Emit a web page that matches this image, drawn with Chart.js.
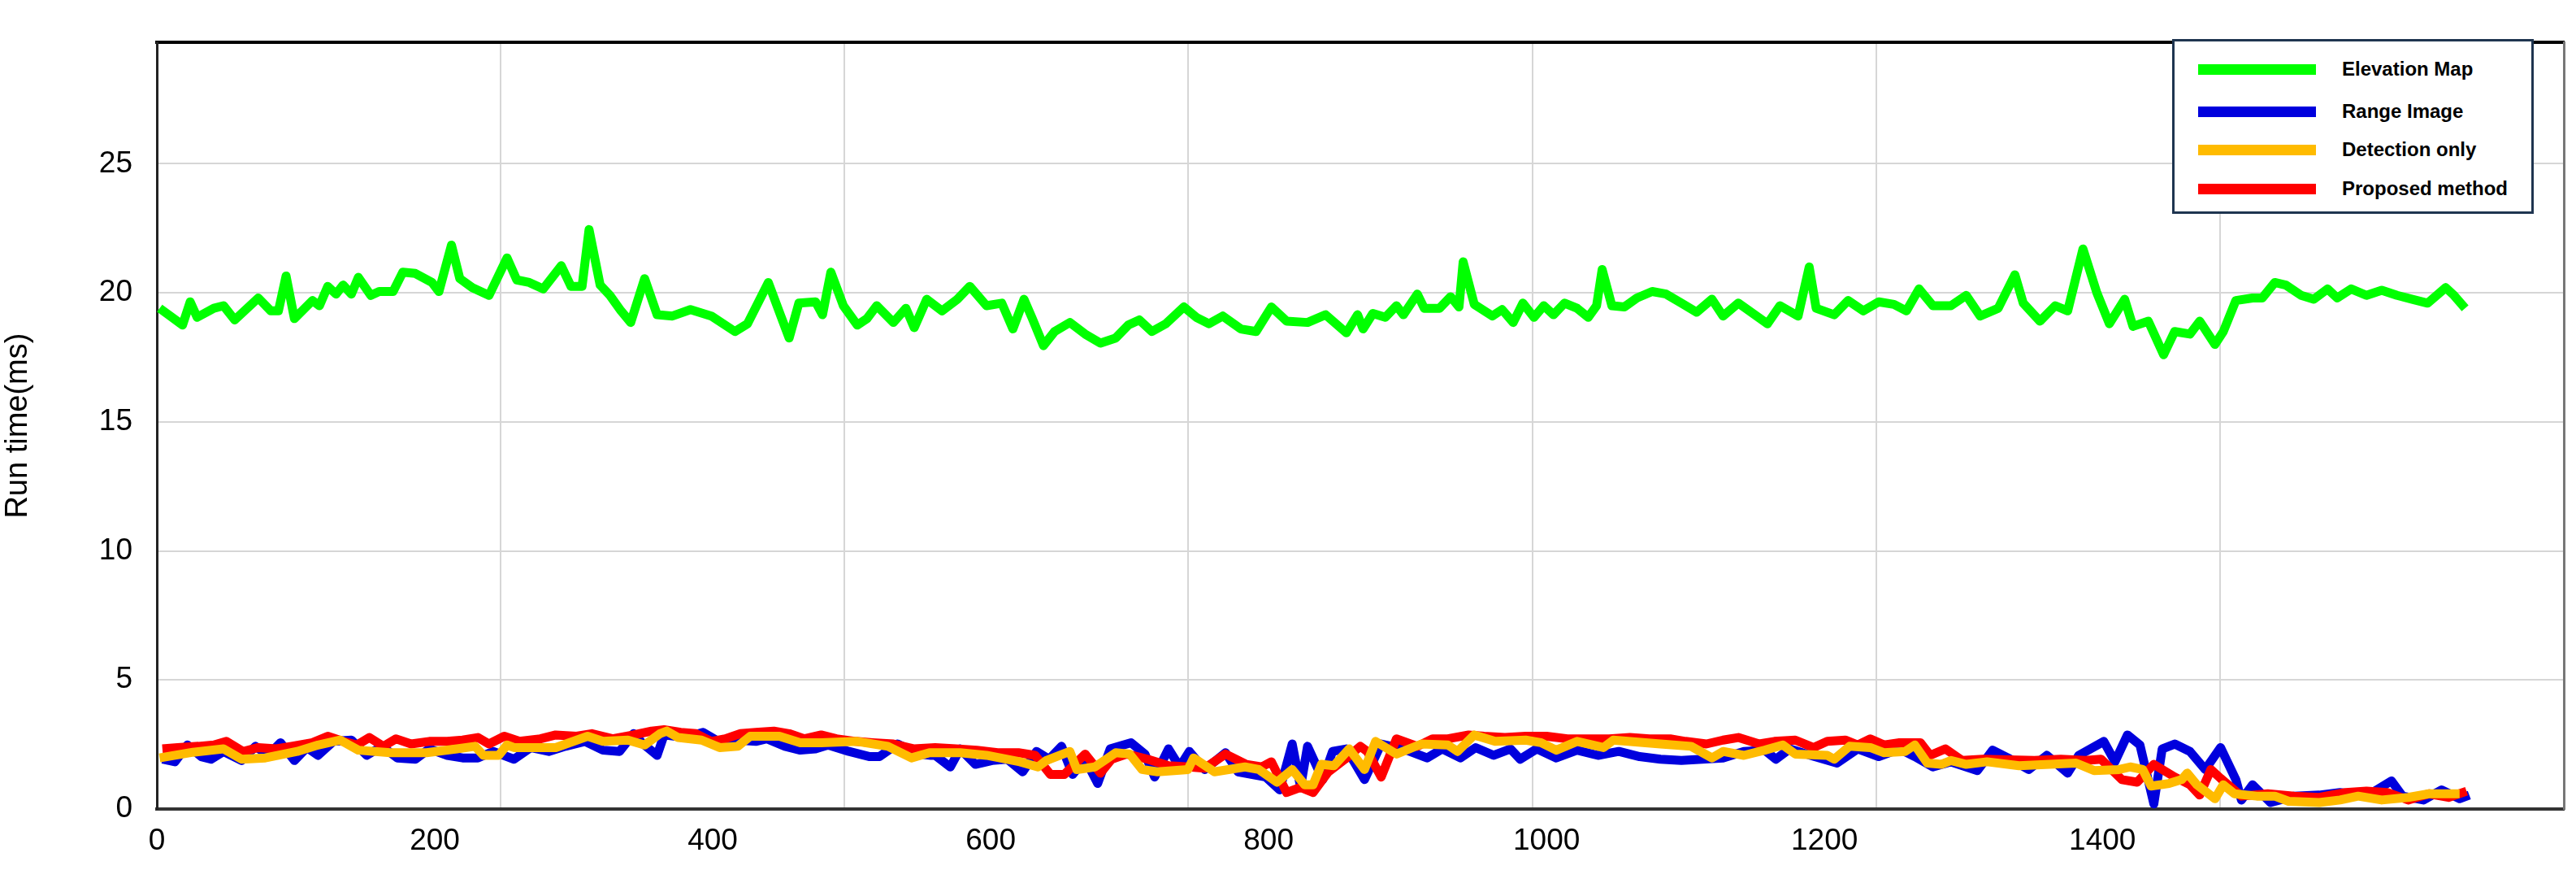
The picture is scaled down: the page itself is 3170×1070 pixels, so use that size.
<!DOCTYPE html>
<html>
<head>
<meta charset="utf-8">
<script src="https://cdn.jsdelivr.net/npm/chart.js@4.4.0/dist/chart.umd.min.js"></script>
<style>
    html, body { margin: 0; padding: 0; background: #fff; }
    #wrap { position: relative; width: 3170px; height: 1070px; }
    #legend {
        position: absolute; left: 2673px; top: 48px; width: 439px; height: 209px;
        border: 3px solid #1f3550; background: #fff;
        font-family: "Liberation Sans", Arial, sans-serif; font-weight: bold; font-size: 24px;
    }
    .row { position: absolute; left: 0; height: 30px; display: flex; align-items: center; }
    .swatch { position: absolute; left: 29px; width: 145px; height: 13px; }
    .label { position: absolute; left: 206px; white-space: nowrap; color: #000; }
</style>
</head>
<body>
<div id="wrap">
    <canvas id="chart" width="3170" height="1070"></canvas>
    <div id="legend"></div>
</div>
<script>
// Series names and colours
const seriesNames = ['Elevation Map', 'Range Image', 'Detection only', 'Proposed method'];
const seriesColors = ['#00ff00', '#0000dd', '#ffbb00', '#ff0000'];

// Elevation Map
const greenX = [2, 18.5, 24, 29, 41, 48, 56, 73, 82, 87.5, 93, 99, 112, 117, 123, 129, 134, 140, 145, 154, 160, 170, 177, 186, 198, 203, 212, 218, 227, 239, 252, 259, 268, 278, 291, 298, 306, 311, 319, 326, 334, 341, 351, 360, 371, 384, 399, 416, 425, 440, 449, 455, 462, 474, 479, 485, 494, 504, 511, 518, 530, 539, 545, 554, 565, 576,
    585, 597, 608, 616, 624, 630, 638, 646, 657, 668, 679, 690, 699, 707, 716, 726, 739, 748, 757, 767, 780, 791, 802, 813, 828, 841, 856, 864, 868, 875, 884, 892, 897, 907, 912, 923, 931, 937, 940, 948, 961, 968, 976, 983, 991, 998, 1005, 1013, 1022, 1030, 1036, 1040, 1047, 1056, 1065, 1076, 1086, 1097, 1108, 1119,
    1127, 1138, 1159, 1168, 1181, 1189, 1194, 1207, 1217, 1228, 1239, 1250, 1259, 1268, 1278, 1291, 1302, 1312, 1325, 1337, 1343, 1355, 1366, 1375, 1386, 1396, 1405, 1416, 1422, 1433, 1444, 1452, 1463, 1470, 1481, 1487, 1496, 1508, 1515, 1524, 1532, 1543, 1552, 1562, 1569, 1579, 1590, 1601, 1612, 1623, 1634, 1647, 1653, 1661];
const greenY = [19.4, 18.75, 19.65, 19.05, 19.4, 19.5, 18.95, 19.8, 19.3, 19.3, 20.65, 19.0, 19.7, 19.5, 20.25, 19.95, 20.3, 19.95, 20.6, 19.9, 20.05, 20.05, 20.8, 20.75, 20.4, 20.05, 21.85, 20.55, 20.2, 19.9, 21.35, 20.5, 20.4, 20.15, 21.05, 20.25, 20.25, 22.45, 20.3, 19.9, 19.3, 18.85, 20.55, 19.15, 19.1, 19.35, 19.1, 18.5, 18.8, 20.4, 19.1, 18.25, 19.6, 19.65, 19.15, 20.8, 19.5, 18.75, 19.0, 19.5, 18.85, 19.4, 18.65, 19.75, 19.3, 19.75,
    20.25, 19.5, 19.6, 18.6, 19.75, 19.0, 17.95, 18.5, 18.85, 18.4, 18.05, 18.25, 18.75, 18.95, 18.5, 18.8, 19.45, 19.05, 18.8, 19.1, 18.6, 18.5, 19.45, 18.9, 18.85, 19.15, 18.45, 19.15, 18.6, 19.2, 19.05, 19.5, 19.15, 19.95, 19.4, 19.4, 19.85, 19.45, 21.2, 19.55, 19.1, 19.35, 18.85, 19.6, 19.05, 19.5, 19.15, 19.6, 19.4, 19.05, 19.5, 20.9, 19.5, 19.45, 19.8, 20.05, 19.95, 19.6, 19.25, 19.75,
    19.1, 19.6, 18.8, 19.5, 19.1, 21.0, 19.4, 19.15, 19.7, 19.3, 19.65, 19.55, 19.3, 20.15, 19.5, 19.5, 19.9, 19.1, 19.4, 20.7, 19.6, 18.9, 19.5, 19.3, 21.7, 20.0, 18.8, 19.75, 18.7, 18.9, 17.6, 18.5, 18.4, 18.9, 18.0, 18.5, 19.7, 19.8, 19.8, 20.4, 20.3, 19.9, 19.75, 20.15, 19.8, 20.15, 19.9, 20.1, 19.9, 19.75, 19.6, 20.2, 19.9, 19.4];

// Range Image
const blueX = [4, 13, 22, 32, 39, 48, 61, 71, 80, 89, 99, 108, 116, 127, 140, 151, 162, 173, 186, 196, 209, 220, 231, 242, 257, 269, 282, 294, 308, 321, 333, 343, 350, 360, 365, 380, 393, 404, 418, 431, 439, 452, 463, 474, 483, 498, 513, 520, 533, 548, 557, 571,
    560, 571, 578, 589, 601, 612, 623, 633, 642, 651, 659, 668, 677, 686, 701, 711, 718, 728, 736, 743, 754, 769, 778, 798, 808, 817, 823, 828, 839, 846, 856, 869, 881, 897, 914, 925, 938, 949, 962, 974, 981, 993, 1007, 1022, 1037, 1052, 1067, 1082, 1097, 1127, 1142, 1157, 1165, 1175,
    1190, 1209, 1224, 1239, 1254, 1265, 1278, 1291, 1310, 1321, 1332, 1347, 1360, 1375, 1383, 1401, 1409, 1418, 1427, 1437, 1443, 1452, 1463, 1474, 1485, 1496, 1500, 1508, 1521, 1538, 1556, 1571, 1590, 1608, 1616, 1631, 1644, 1657, 1664];
const blueY = [1.93, 1.83, 2.48, 2.03, 1.93, 2.23, 1.88, 2.43, 2.08, 2.57, 1.88, 2.38, 2.08, 2.62, 2.67, 2.08, 2.43, 1.98, 1.93, 2.33, 2.08, 1.98, 1.98, 2.23, 1.93, 2.38, 2.23, 2.43, 2.62, 2.28, 2.23, 2.92, 2.52, 2.08, 2.87, 2.77, 2.97, 2.62, 2.67, 2.62, 2.72, 2.43, 2.28, 2.33, 2.48, 2.23, 2.03, 2.03, 2.52, 2.13, 2.08, 1.63,
    2.08, 1.63, 2.33, 1.73, 1.88, 1.93, 1.44, 2.23, 1.93, 2.43, 1.34, 1.93, 0.99, 2.33, 2.57, 2.13, 1.24, 2.33, 1.63, 2.23, 1.53, 2.18, 1.44, 1.24, 0.74, 2.52, 0.84, 2.43, 1.14, 2.23, 2.33, 1.14, 2.52, 2.33, 1.98, 2.33, 1.98, 2.38, 2.08, 2.33, 1.93, 2.33, 1.98, 2.28, 2.08, 2.23, 2.03, 1.93, 1.88, 1.98, 2.23, 2.28, 1.93, 2.33,
    2.08, 1.78, 2.33, 2.03, 2.33, 2.03, 1.63, 1.83, 1.49, 2.28, 1.98, 1.53, 2.08, 1.39, 2.08, 2.62, 1.83, 2.87, 2.48, 0.20, 2.33, 2.52, 2.23, 1.53, 2.38, 1.14, 0.35, 0.94, 0.25, 0.50, 0.54, 0.64, 0.50, 1.09, 0.50, 0.35, 0.74, 0.40, 0.54];

// Detection only
const orangeX = [2, 26, 48, 61, 78, 101, 116, 132, 145, 168, 194, 216, 229, 235, 246, 252, 257, 287, 310, 321, 339, 351, 362, 367, 375, 392, 405, 418, 427, 448, 463, 478, 504, 526, 543, 556,
    578, 597, 621, 634, 640, 657, 662, 675, 690, 700, 709, 720, 742, 746, 761, 783, 793, 806, 817, 826, 832, 838, 847, 858, 869, 877, 892, 910, 929, 936, 948, 963, 985, 996, 1007, 1022, 1041, 1048, 1082, 1104, 1119, 1127,
    1142, 1157, 1170, 1179, 1202, 1207, 1218, 1233, 1243, 1258, 1265, 1274, 1284, 1291, 1302, 1317, 1340, 1381, 1394, 1412, 1420, 1429, 1435, 1448, 1457, 1461, 1468, 1481, 1487, 1495, 1511, 1524, 1534, 1556, 1571, 1584, 1601, 1620, 1635, 1657];
const orangeY = [1.98, 2.2, 2.33, 1.93, 1.98, 2.23, 2.48, 2.67, 2.28, 2.18, 2.18, 2.33, 2.43, 2.08, 2.08, 2.48, 2.38, 2.38, 2.82, 2.62, 2.67, 2.48, 2.92, 3.02, 2.77, 2.67, 2.38, 2.43, 2.82, 2.82, 2.57, 2.57, 2.62, 2.43, 1.98, 2.18,
    2.18, 2.08, 1.83, 1.63, 1.88, 2.23, 1.53, 1.63, 2.18, 2.13, 1.53, 1.44, 1.53, 1.98, 1.44, 1.63, 1.53, 1.04, 1.53, 0.94, 0.94, 1.73, 1.68, 2.33, 1.53, 2.62, 2.13, 2.52, 2.48, 2.23, 2.87, 2.62, 2.67, 2.57, 2.28, 2.62, 2.38, 2.67, 2.52, 2.43, 1.98, 2.23,
    2.08, 2.28, 2.48, 2.13, 2.08, 1.93, 2.43, 2.38, 2.18, 2.23, 2.48, 1.78, 1.73, 1.88, 1.73, 1.83, 1.68, 1.78, 1.49, 1.53, 1.63, 1.53, 0.89, 0.99, 1.14, 1.39, 0.94, 0.40, 0.94, 0.59, 0.50, 0.50, 0.30, 0.25, 0.35, 0.50, 0.35, 0.45, 0.59, 0.59];

// Proposed method
const redX = [4, 15, 30, 41, 50, 62, 73, 86, 97, 112, 123, 134, 144, 153, 163, 172, 183, 196, 209, 220, 231, 239, 250, 261, 276, 287, 302, 313, 328, 343, 356, 365, 377, 388, 399, 409, 420, 431, 444, 455, 466, 478, 489, 503, 515, 530, 545, 560,
    575, 590, 605, 620, 632, 643, 653, 668, 679, 687, 698, 713, 728, 743, 754, 769, 784, 795, 802, 813, 823, 832, 843, 855, 866, 871, 881, 892, 907, 918, 929, 944, 955, 970, 985, 1000, 1015, 1030, 1045, 1060, 1074, 1089, 1100, 1115,
    1127, 1138, 1153, 1164, 1179, 1192, 1202, 1215, 1224, 1233, 1243, 1254, 1269, 1276, 1287, 1299, 1314, 1351, 1370, 1388, 1399, 1414, 1425, 1437, 1452, 1463, 1470, 1478, 1485, 1500, 1519, 1538, 1556, 1575, 1590, 1605, 1620, 1635, 1649, 1662];
const redY = [2.33, 2.38, 2.43, 2.48, 2.62, 2.23, 2.38, 2.33, 2.43, 2.57, 2.82, 2.62, 2.48, 2.77, 2.43, 2.72, 2.52, 2.62, 2.62, 2.67, 2.77, 2.52, 2.82, 2.62, 2.72, 2.87, 2.82, 2.92, 2.72, 2.87, 3.02, 3.07, 2.97, 2.92, 2.62, 2.72, 2.92, 2.97, 3.02, 2.92, 2.72, 2.87, 2.72, 2.62, 2.57, 2.52, 2.33, 2.38,
    2.33, 2.28, 2.18, 2.18, 2.08, 1.34, 1.34, 2.13, 1.39, 1.93, 2.13, 1.93, 1.68, 1.63, 1.58, 2.13, 1.73, 1.63, 1.83, 0.64, 0.84, 0.64, 1.44, 1.93, 2.43, 2.23, 1.24, 2.72, 2.43, 2.72, 2.72, 2.87, 2.82, 2.77, 2.82, 2.82, 2.72, 2.72, 2.72, 2.77, 2.72, 2.72, 2.62, 2.52,
    2.67, 2.77, 2.52, 2.62, 2.67, 2.38, 2.62, 2.67, 2.48, 2.72, 2.48, 2.57, 2.57, 2.08, 2.33, 1.88, 1.93, 1.88, 1.93, 1.88, 1.93, 1.14, 1.04, 1.73, 1.24, 0.94, 0.54, 1.53, 1.19, 0.50, 0.59, 0.50, 0.45, 0.64, 0.69, 0.64, 0.35, 0.59, 0.45, 0.69];

// X axis: labelled ticks every 200, grid lines every ~245.6 (as in the figure)
const xMax = 1732;
const xLabelStep = 200;
const xLastLabel = 1400;
const xGridStep = 245.6;
const yMax = 29.7;
const yStep = 5;

function toPoints(xs, ys) {
    return xs.map((x, i) => ({ x: x, y: ys[i] }))
        .sort((a, b) => a.x - b.x);
}

const seriesData = [
    toPoints(greenX, greenY),
    toPoints(blueX, blueY),
    toPoints(orangeX, orangeY),
    toPoints(redX, redY)
];
// draw order: detection on top, then proposed, range, elevation
const drawOrder = [3, 2, 0, 1];

const font = { family: '"Liberation Sans", Arial, sans-serif', size: 37 };

new Chart(document.getElementById('chart'), {
    type: 'line',
    data: {
        datasets: seriesNames.map((name, i) => ({
            label: name,
            data: seriesData[i],
            borderColor: seriesColors[i],
            borderWidth: 11,
            borderJoinStyle: 'round',
            pointRadius: 0,
            tension: 0,
            order: drawOrder[i]
        }))
    },
    options: {
        responsive: false,
        animation: false,
        events: [],
        layout: { padding: { top: 14, right: 15, left: 0, bottom: 0 } },
        plugins: { legend: { display: false }, tooltip: { enabled: false } },
        scales: {
            x: {
                type: 'linear', min: 0, max: xMax, position: 'bottom',
                grid: { display: false },
                border: { color: '#333', width: 4 },
                ticks: { stepSize: xLabelStep, color: '#000', font: font, padding: 10, maxRotation: 0,
                    callback: v => String(v) },
                afterBuildTicks: s => { s.ticks = s.ticks.filter(t => t.value % xLabelStep === 0 && t.value <= xLastLabel); },
                afterFit: s => { s.height = 1070 - 995; }
            },
            xg: {
                type: 'linear', min: 0, max: xMax, position: 'top',
                grid: { color: '#d6d6d6', lineWidth: 2, drawTicks: false },
                border: { color: '#000', width: 4 },
                ticks: { display: false, stepSize: xGridStep },
                afterBuildTicks: s => { s.ticks = s.ticks.filter(t => t.value > 0 && t.value < xMax - 5); },
                afterFit: s => { s.height = 0; }
            },
            y: {
                min: 0, max: yMax,
                grid: { color: '#d6d6d6', lineWidth: 2, drawTicks: false },
                border: { color: '#222', width: 3 },
                ticks: { stepSize: yStep, color: '#000', font: font, padding: 30 },
                afterBuildTicks: s => { s.ticks = s.ticks.filter(t => t.value % yStep === 0); },
                title: { display: true, text: 'Run time(ms)', color: '#000', font: { family: font.family, size: 38 }, padding: { top: 0, bottom: 20 } },
                afterFit: s => { s.width = 193; }
            },
            yr: {
                min: 0, max: yMax, position: 'right',
                grid: { display: false },
                border: { color: '#777', width: 3 },
                ticks: { display: false },
                afterFit: s => { s.width = 0; }
            }
        }
    }
});

// Legend box
const legendEl = document.getElementById('legend');
const rowTops = [34, 86, 133, 181];
legendEl.innerHTML = seriesNames.map((name, i) => `
    <div class="row" style="top:${rowTops[i] - 15}px">
        <div class="swatch" style="background:${seriesColors[i]}"></div>
        <div class="label">${name}</div>
    </div>
`).join('');
</script>
</body>
</html>
